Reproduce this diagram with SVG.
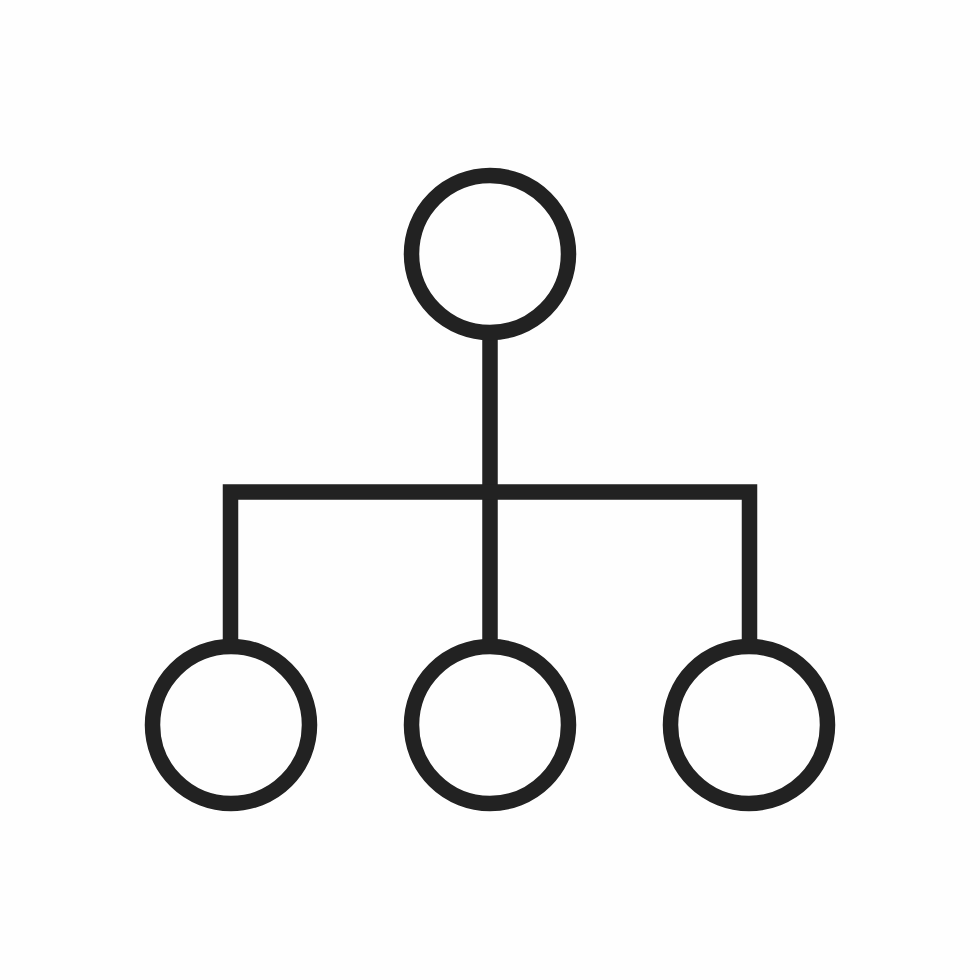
<svg xmlns="http://www.w3.org/2000/svg" width="980" height="980" viewBox="0 0 980 980">
<style>
.n{fill:none;stroke:#222;stroke-width:15.5}
.c{fill:none;stroke:#222;stroke-width:15.5;stroke-linecap:butt;stroke-linejoin:miter}
</style>
<rect width="980" height="980" fill="#fefefe"/>
<g id="connectors">
<path class="c" d="M490 332V640"/>
<path class="c" d="M230.5 640V492H749.5V640"/>
</g>
<g id="root"><circle class="n" cx="490" cy="254" r="78.5"/></g>
<g id="child1"><circle class="n" cx="231" cy="725" r="78.5"/></g>
<g id="child2"><circle class="n" cx="490" cy="725" r="78.5"/></g>
<g id="child3"><circle class="n" cx="749" cy="725" r="78.5"/></g>
</svg>
